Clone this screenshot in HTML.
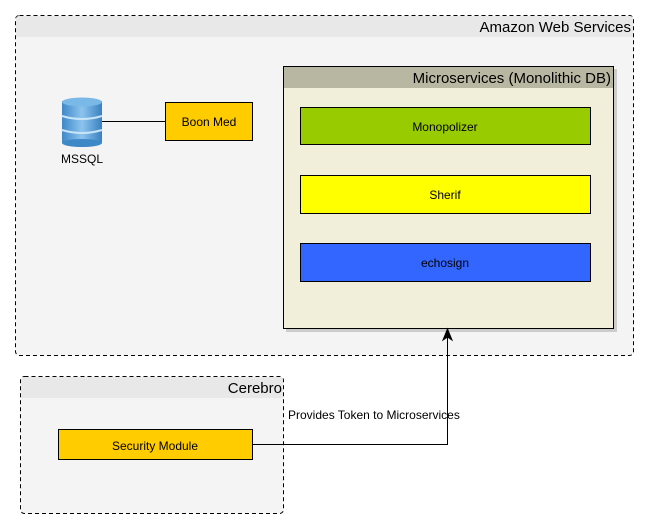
<!DOCTYPE html>
<html><head><meta charset="utf-8"><style>
html,body{margin:0;padding:0;background:#fff;}
svg{display:block;font-family:"Liberation Sans",Arial,sans-serif;}
</style></head><body>
<svg width="648" height="529" viewBox="0 0 648 529" xmlns="http://www.w3.org/2000/svg">
<defs>
<linearGradient id="db" x1="0" x2="1">
<stop offset="0" stop-color="#3f88c8"/><stop offset="0.5" stop-color="#8cc4ee"/><stop offset="1" stop-color="#3a80c0"/>
</linearGradient>
</defs>
<!-- AWS -->
<rect x="15.5" y="15.5" width="618" height="340" rx="4" fill="#f4f4f4" stroke="#000" stroke-dasharray="4,3"/>
<path d="M16 37 H633 V19 Q633 16 630 16 H19 Q16 16 16 19 Z" fill="#e8e8e8"/>
<text x="631" y="32" font-size="15" text-anchor="end" fill="#000">Amazon Web Services</text>
<!-- DB -->
<rect x="62" y="101" width="40" height="42" fill="url(#db)"/>
<ellipse cx="82" cy="143" rx="20" ry="4" fill="#3f88c8"/>
<ellipse cx="82" cy="102" rx="20" ry="4.5" fill="#7ab8e8"/>
<path d="M62 116 Q82 122 102 116 M62 130 Q82 136 102 130" stroke="#c8e4f8" stroke-width="2" fill="none"/>
<text x="82" y="163" font-size="12" text-anchor="middle">MSSQL</text>
<line x1="102" y1="121.5" x2="165" y2="121.5" stroke="#000"/>
<rect x="165.5" y="102.5" width="87" height="38" fill="#ffcc00" stroke="#000"/>
<text x="209" y="126" font-size="12" text-anchor="middle">Boon Med</text>
<!-- Microservices -->
<rect x="286" y="69" width="331" height="263" fill="#cccccc"/>
<rect x="283.5" y="66.5" width="330" height="262" fill="#f1efda" stroke="#000"/>
<rect x="284" y="67" width="329" height="21" fill="#b8b8a2"/>
<text x="611" y="83" font-size="15" text-anchor="end">Microservices (Monolithic DB)</text>
<rect x="300.5" y="107.5" width="290" height="37" fill="#99cc00" stroke="#000"/>
<text x="445" y="131" font-size="12" text-anchor="middle">Monopolizer</text>
<rect x="300.5" y="175.5" width="290" height="38" fill="#ffff00" stroke="#000"/>
<text x="445" y="199" font-size="12" text-anchor="middle">Sherif</text>
<rect x="300.5" y="243.5" width="290" height="38" fill="#3366ff" stroke="#000"/>
<text x="445" y="267" font-size="12" text-anchor="middle">echosign</text>
<!-- Cerebro -->
<rect x="20.5" y="376.5" width="263" height="137" rx="4" fill="#f4f4f4" stroke="#000" stroke-dasharray="4,3"/>
<path d="M21 398 H283 V380 Q283 377 280 377 H24 Q21 377 21 380 Z" fill="#e8e8e8"/>
<text x="282" y="393" font-size="15" text-anchor="end">Cerebro</text>
<rect x="58.5" y="429.5" width="194" height="30" fill="#ffcc00" stroke="#000"/>
<text x="155" y="450" font-size="12" text-anchor="middle">Security Module</text>
<!-- connector -->
<polyline points="252,444.5 447.5,444.5 447.5,336" fill="none" stroke="#000"/>
<path d="M447.5 329 L443 340 L447.5 337 L452 340 Z" fill="#000" stroke="#000"/>
<text x="288" y="419" font-size="12">Provides Token to Microservices</text>
</svg>
</body></html>
